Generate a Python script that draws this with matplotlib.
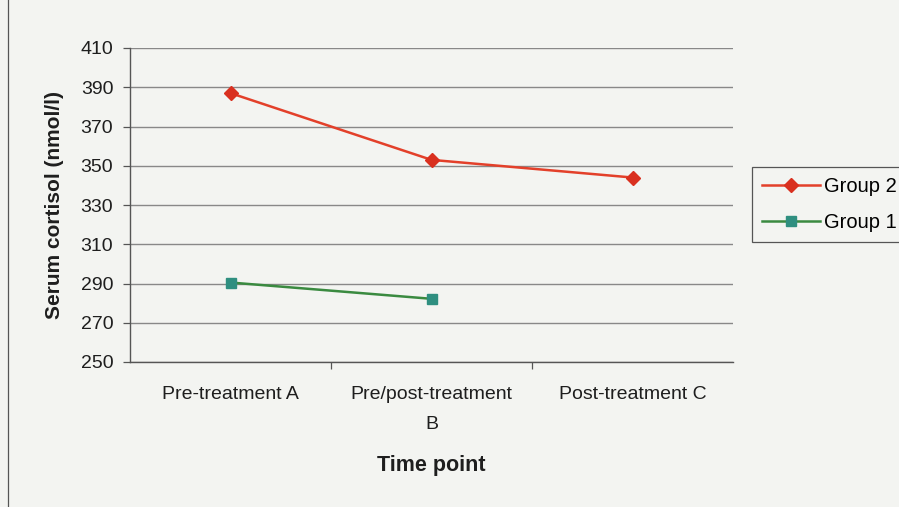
import matplotlib
matplotlib.use("Agg")
import matplotlib.pyplot as plt
from matplotlib.patches import Rectangle

categories = ["Pre-treatment A", "Pre/post-treatment\nB", "Post-treatment C"]
group2 = [387.0, 353.0, 344.0]
group1 = [290.5, 282.2]
yticks = [250, 270, 290, 310, 330, 350, 370, 390, 410]

plt.rcParams['font.family'] = ['Liberation Sans', 'DejaVu Sans']

bg = '#f3f4f1'
txt = '#1e1e1e'
fig = plt.figure(figsize=(8.99, 5.07), dpi=100, facecolor=bg)
ax = fig.add_axes([130/899, 1-362/507, (733-130)/899, (362-48)/507])
ax.set_facecolor(bg)

# outer chart border (left edge visible)
fig.add_artist(Rectangle((8/899, -0.01), 1.0, 1.02, transform=fig.transFigure,
                         fill=False, edgecolor='#555555', linewidth=0.9))

x2 = list(range(len(group2)))
x1 = list(range(len(group1)))
ax.plot(x2, group2, color='#e3402a', linewidth=1.8, marker='D', markersize=7.5,
        markerfacecolor='#d9301f', markeredgecolor='#d9301f', label='Group 2', zorder=3)
ax.plot(x1, group1, color='#3a8a40', linewidth=1.8, marker='s', markersize=7.5,
        markerfacecolor='#2f8f80', markeredgecolor='#2f8f80', label='Group 1', zorder=3)

ax.set_xlim(-0.5, 2.5)
ax.set_ylim(250, 410)
ax.set_yticks(yticks)
ax.set_yticklabels([str(v) for v in yticks], fontsize=14, color=txt)
ax.set_xticks(x2)
ax.set_xticklabels(categories, fontsize=14, color=txt, linespacing=2.0)
ax.tick_params(axis='x', length=0, pad=17)
ax.set_xticks([0.5, 1.5], minor=True)
ax.tick_params(axis='x', which='minor', length=5, width=0.9, color='#555555', direction='out')
ax.tick_params(axis='y', length=5, width=0.9, color='#555555', direction='out', pad=7)

ax.grid(axis='y', color='#888888', linewidth=1.0)
ax.set_axisbelow(True)
for side in ['top', 'right']:
    ax.spines[side].set_visible(False)
for side in ['left', 'bottom']:
    ax.spines[side].set_color('#555555')
    ax.spines[side].set_linewidth(1.0)

ax.set_ylabel('Serum cortisol (nmol/l)', fontsize=15, fontweight='bold', color=txt, labelpad=12)
fig.text(431/899, 1-466/507, 'Time point', fontsize=15.5, fontweight='bold', color=txt,
         ha='center', va='center')

leg = ax.legend(loc='upper left', bbox_to_anchor=(752/899, 1-167/507), bbox_transform=fig.transFigure,
                fontsize=14.5, frameon=True, fancybox=False, edgecolor='#555555',
                facecolor=bg, framealpha=1, handlelength=2.9, borderpad=0.5,
                labelspacing=0.85, handletextpad=0.2, borderaxespad=0)
leg.get_frame().set_linewidth(0.9)

fig.savefig('out.png', dpi=100, facecolor=bg)
